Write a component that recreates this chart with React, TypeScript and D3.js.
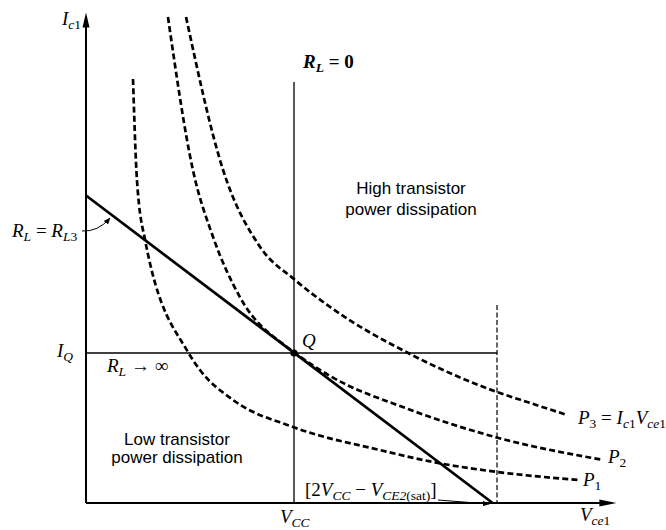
import React from 'react';
import * as d3 from 'd3';

const W = 666;
const H = 530;

// V in units of V_CC, I in units of I_Q
const p1V = [0.226, 0.245, 0.284, 0.49, 0.548, 0.707, 0.995, 1.413, 1.692, 1.976, 2.375];
const p1I = [2.827, 2.153, 1.753, 1.007, 0.887, 0.687, 0.507, 0.353, 0.267, 0.207, 0.153];
const p2V = [0.394, 0.514, 0.611, 0.74, 0.966, 1.005, 1.173, 1.548, 1.966, 2.486];
const p2I = [3.24, 2.22, 1.773, 1.373, 1.04, 1.0, 0.847, 0.627, 0.44, 0.287];
const p3V = [0.481, 0.659, 0.837, 1.005, 1.173, 1.567, 1.976, 2.135, 2.313];
const p3I = [3.24, 2.22, 1.707, 1.487, 1.307, 0.987, 0.74, 0.667, 0.587];

const loadV = [0, 1.955];
const loadI = [2.05, 0];

const VCC = 1;
const IQ = 1;
const V_2VCC = 1.976;
const V_AXIS_END = 2.55;
const I_AXIS_END = 3.27;
const RL0_TOP = 2.807;
const V2_TOP = 1.32;

const serif = '"Liberation Serif", "Times New Roman", serif';
const sans = '"Liberation Sans", Arial, Helvetica, sans-serif';
const FS = 19;
const SUB = 13.5;

export default function App() {
  const x = d3.scaleLinear().domain([0, 2]).range([86, 502]);
  const y = d3.scaleLinear().domain([0, 3]).range([503, 53]);

  const line = d3
    .line<[number, number]>()
    .x((d) => x(d[0]))
    .y((d) => y(d[1]))
    .curve(d3.curveMonotoneX);

  const curves = [
    { v: p1V, i: p1I },
    { v: p2V, i: p2I },
    { v: p3V, i: p3I },
  ];

  const x0 = x(0);
  const y0 = y(0);
  const xEnd = x(V_AXIS_END);
  const yTop = y(I_AXIS_END);

  return (
    <svg
      width={W}
      height={H}
      style={{ position: 'absolute', left: 0, top: 0, background: '#fff' }}
    >
      <defs>
        <marker id="sm-arrow" viewBox="0 0 10 10" refX="9" refY="5" markerWidth="7" markerHeight="7" orient="auto">
          <path d="M0,1 L10,5 L0,9 z" fill="#000" />
        </marker>
      </defs>

      {/* axes */}
      <line x1={x0} y1={y0} x2={xEnd - 10} y2={y0} stroke="#000" strokeWidth={2} />
      <path d={`M${xEnd},${y0} L${xEnd - 17},${y0 - 3.5} L${xEnd - 17},${y0 + 3.5} z`} fill="#000" />
      <line x1={x0} y1={y0} x2={x0} y2={yTop + 10} stroke="#000" strokeWidth={2} />
      <path d={`M${x0},${yTop} L${x0 - 3.5},${yTop + 15} L${x0 + 3.5},${yTop + 15} z`} fill="#000" />

      {/* R_L = 0 vertical at V_CC */}
      <line x1={x(VCC)} y1={y(RL0_TOP)} x2={x(VCC)} y2={y0} stroke="#000" strokeWidth={1.3} />
      {/* I_Q horizontal */}
      <line x1={x0} y1={y(IQ)} x2={x(V_2VCC)} y2={y(IQ)} stroke="#000" strokeWidth={1.3} />
      {/* 2V_CC dashed vertical */}
      <line
        x1={x(V_2VCC)}
        y1={y(V2_TOP)}
        x2={x(V_2VCC)}
        y2={y0}
        stroke="#000"
        strokeWidth={1.2}
        strokeDasharray="5,2.5"
      />

      {/* power hyperbolas */}
      {curves.map((c, k) => (
        <path
          key={k}
          d={line(c.v.map((v, j) => [v, c.i[j]] as [number, number])) || ''}
          fill="none"
          stroke="#000"
          strokeWidth={2.7}
          strokeDasharray="6,3.2"
        />
      ))}

      {/* load line */}
      <line
        x1={x(loadV[0])}
        y1={y(loadI[0])}
        x2={x(loadV[1])}
        y2={y(loadI[1])}
        stroke="#000"
        strokeWidth={2.7}
      />
      <circle cx={x(VCC)} cy={y(IQ)} r={3.6} fill="#000" />

      {/* label arrows */}
      <path d="M82,231 Q98,232 110,218" fill="none" stroke="#000" strokeWidth={1} markerEnd="url(#sm-arrow)" />
      <line x1={438} y1={500} x2={489} y2={504} stroke="#000" strokeWidth={1} markerEnd="url(#sm-arrow)" />

      {/* math labels */}
      <text x={62} y={25} fontFamily={serif} fontSize={FS}>
        <tspan fontStyle="italic">I</tspan>
        <tspan fontStyle="italic" fontSize={SUB} dy={4}>c</tspan>
        <tspan fontSize={SUB}>1</tspan>
      </text>

      <text x={303} y={68} fontFamily={serif} fontSize={FS} fontWeight="bold">
        <tspan fontStyle="italic">R</tspan>
        <tspan fontStyle="italic" fontSize={SUB} dy={4}>L</tspan>
        <tspan dy={-4}> = 0</tspan>
      </text>

      <text x={12} y={237} fontFamily={serif} fontSize={FS}>
        <tspan fontStyle="italic">R</tspan>
        <tspan fontStyle="italic" fontSize={SUB} dy={4}>L</tspan>
        <tspan dy={-4}> = </tspan>
        <tspan fontStyle="italic">R</tspan>
        <tspan fontStyle="italic" fontSize={SUB} dy={4}>L</tspan>
        <tspan fontSize={SUB}>3</tspan>
      </text>

      <text x={57} y={357} fontFamily={serif} fontSize={FS}>
        <tspan fontStyle="italic">I</tspan>
        <tspan fontStyle="italic" fontSize={SUB} dy={4}>Q</tspan>
      </text>

      <text x={107} y={372} fontFamily={serif} fontSize={FS}>
        <tspan fontStyle="italic">R</tspan>
        <tspan fontStyle="italic" fontSize={SUB} dy={4}>L</tspan>
        <tspan dy={-4}> → ∞</tspan>
      </text>

      <text x={302} y={347} fontFamily={serif} fontSize={FS} fontStyle="italic">
        Q
      </text>

      <text x={280} y={523} fontFamily={serif} fontSize={FS}>
        <tspan fontStyle="italic">V</tspan>
        <tspan fontStyle="italic" fontSize={SUB} dy={4}>CC</tspan>
      </text>

      <text x={580} y={521} fontFamily={serif} fontSize={FS}>
        <tspan fontStyle="italic">V</tspan>
        <tspan fontStyle="italic" fontSize={SUB} dy={4}>ce</tspan>
        <tspan fontSize={SUB}>1</tspan>
      </text>

      <text x={578} y={424} fontFamily={serif} fontSize={FS}>
        <tspan fontStyle="italic">P</tspan>
        <tspan fontSize={SUB} dy={4}>3</tspan>
        <tspan dy={-4}> = </tspan>
        <tspan fontStyle="italic">I</tspan>
        <tspan fontStyle="italic" fontSize={SUB} dy={4}>c</tspan>
        <tspan fontSize={SUB}>1</tspan>
        <tspan fontStyle="italic" dy={-4}>V</tspan>
        <tspan fontStyle="italic" fontSize={SUB} dy={4}>ce</tspan>
        <tspan fontSize={SUB}>1</tspan>
      </text>

      <text x={608} y={463} fontFamily={serif} fontSize={FS}>
        <tspan fontStyle="italic">P</tspan>
        <tspan fontSize={SUB} dy={4}>2</tspan>
      </text>

      <text x={583} y={486} fontFamily={serif} fontSize={FS}>
        <tspan fontStyle="italic">P</tspan>
        <tspan fontSize={SUB} dy={4}>1</tspan>
      </text>

      <text x={305} y={496} fontFamily={serif} fontSize={FS}>
        <tspan>[2</tspan>
        <tspan fontStyle="italic">V</tspan>
        <tspan fontStyle="italic" fontSize={SUB} dy={4}>CC</tspan>
        <tspan dy={-4}> − </tspan>
        <tspan fontStyle="italic">V</tspan>
        <tspan fontStyle="italic" fontSize={SUB} dy={4}>CE2</tspan>
        <tspan fontSize={SUB}>(sat)</tspan>
        <tspan dy={-4}>]</tspan>
      </text>

      {/* region labels */}
      <text x={411} y={194} fontFamily={sans} fontSize={17} textAnchor="middle">
        High transistor
      </text>
      <text x={411} y={215} fontFamily={sans} fontSize={17} textAnchor="middle">
        power dissipation
      </text>
      <text x={177} y={445} fontFamily={sans} fontSize={17} textAnchor="middle">
        Low transistor
      </text>
      <text x={177} y={463} fontFamily={sans} fontSize={17} textAnchor="middle">
        power dissipation
      </text>
    </svg>
  );
}
